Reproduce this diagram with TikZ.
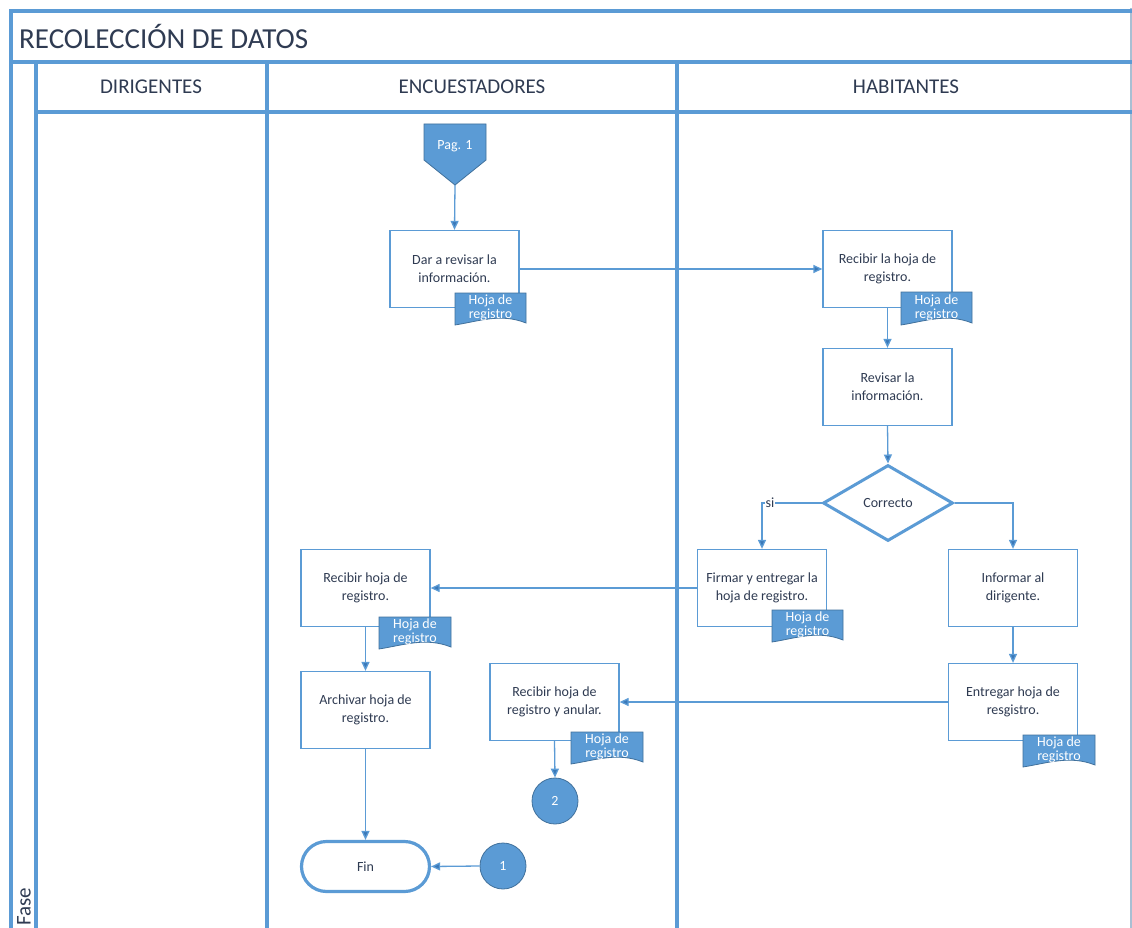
\documentclass[tikz,border=0pt]{standalone}
\usepackage{fontspec}
\setmainfont{Carlito}
\usetikzlibrary{arrows.meta,shapes.geometric,calc}
\definecolor{lane}{HTML}{5B9BD5}
\definecolor{laneedge}{HTML}{41719C}
\definecolor{arrowc}{HTML}{3A78B8}
\definecolor{txt}{HTML}{2F3B52}
\definecolor{rim}{HTML}{A9BFD3}
\tikzset{
  x=1pt, y=-1pt,
  frame/.style={draw=lane, line width=3.2pt},
  proc/.style={draw=lane, line width=1.3pt, fill=white, minimum width=129pt, minimum height=77pt,
    align=center, text=txt, font=\fontsize{14}{18}\selectfont, inner sep=0pt},
  flow/.style={draw=lane, line width=1.3pt, -{Triangle[length=9pt,width=8pt,fill=arrowc]}},
  docu/.style={fill=lane, draw=laneedge, line width=0.8pt},
  doctext/.style={text=white, align=center, font=\fontsize{14}{14}\selectfont, inner sep=0pt},
  conn/.style={circle, fill=lane, draw=laneedge, line width=0.8pt, minimum size=46pt, inner sep=0pt,
    text=white, font=\fontsize{14}{16}\selectfont},
  lanehead/.style={text=txt, font=\fontsize{21}{24}\selectfont},
}
% document symbol with a wavy lower edge: top-left corner, width, height, name
\newcommand{\docsym}[4]{%
  \path[docu] (#1) -- ++(#2,0) -- ++(0,#3-5)
    .. controls ++(-0.35*#2,-10) and ++(0.35*#2,-4) .. ($(#1)+(0,#3-3)$) -- cycle;
  \node[doctext] (#4) at ($(#1)+(0.5*#2,0.5*#3-2.5)$) {Hoja de\\registro};
}
\begin{document}
\begin{tikzpicture}
\useasboundingbox (0,0) rectangle (1132,928);
\fill[white] (0,0) rectangle (1132,928);

% swimlane frame
\draw[rim, line width=1.2pt] (1131,8) -- (1131,928);
\draw[frame] (11,928) -- (11,11) -- (1132,11);
\draw[frame] (11,62) -- (1132,62);
\draw[frame] (36,112) -- (1132,112);
\draw[frame] (36,62) -- (36,928);
\draw[frame] (267,62) -- (267,928);
\draw[frame] (677,62) -- (677,928);

\node[anchor=west, text=txt, font=\fontsize{29}{32}\selectfont, inner sep=0pt] (title) at (19,36) {RECOLECCIÓN DE DATOS};
\node[lanehead] (h1) at (151,87) {DIRIGENTES};
\node[lanehead] (h2) at (472,87) {ENCUESTADORES};
\node[lanehead] (h3) at (906,87) {HABITANTES};
\node[rotate=90, anchor=west, text=txt, font=\fontsize{21}{22}\selectfont, inner sep=0pt] (fase) at (24,926) {Fase};

% off-page reference
\path[docu] (424,124) -- (486,124) -- (486,160) -- (455,185) -- (424,160) -- cycle;
\node[text=white, font=\fontsize{14}{16}\selectfont] (pag) at (455,146) {Pag. 1};
\coordinate (pagtip) at (455,185);

% process steps
\node[proc] (b1) at (454.5,269) {Dar a revisar la\\información.};
\node[proc] (b2) at (887.5,269) {Recibir la hoja de\\registro.};
\node[proc] (b3) at (887.5,387) {Revisar la\\información.};
\node[diamond, draw=lane, line width=3pt, fill=white, minimum width=130pt, minimum height=76pt,
      inner sep=0pt, text=txt, font=\fontsize{14}{16}\selectfont] (d) at (888,503) {Correcto};
\node[proc] (b4) at (762,588) {Firmar y entregar la\\hoja de registro.};
\node[proc] (b5) at (1013,588) {Informar al\\dirigente.};
\node[proc] (b6) at (1013,702) {Entregar hoja de\\resgistro.};
\node[proc] (b7) at (554.5,702) {Recibir hoja de\\registro y anular.};
\node[proc] (b8) at (365.5,588) {Recibir hoja de\\registro.};
\node[proc] (b9) at (365.5,710) {Archivar hoja de\\registro.};
\node[draw=lane, line width=3.2pt, fill=white, rounded corners=25pt, minimum width=128pt, minimum height=50pt,
      inner sep=0pt, text=txt, font=\fontsize{14}{16}\selectfont] (fin) at (365.5,866.5) {Fin};
\node[conn] (c2) at (555,801) {2};
\node[conn] (c1) at (503,866) {1};

% attached documents
\docsym{455,293}{71}{35}{doc1}
\docsym{901,292}{71}{36}{doc2}
\docsym{772,610}{71}{35}{doc4}
\docsym{1023,735}{72}{35}{doc6}
\docsym{571,732}{72}{35}{doc7}
\docsym{379,617}{72}{35}{doc8}

% connectors
\draw[flow] (pagtip) -- (b1.north);
\draw[flow] (b1.east) -- (b2.west);
\draw[flow] (b2.south) -- (b3.north);
\draw[flow] (b3.south) -- (d.north);
\draw[flow] (d.west) -| (b4.north);
\node[fill=white, text=txt, font=\fontsize{14}{14}\selectfont, inner sep=0.5pt] (si) at (770,503) {si};
\draw[flow] (d.east) -| (b5.north);
\draw[flow] (b5.south) -- (b6.north);
\draw[flow] (b6.west) -- (b7.east);
\draw[flow] (b7.south) -- (c2.north);
\draw[flow] (b4.west) -- (b8.east);
\draw[flow] (b8.south) -- (b9.north);
\draw[flow] (b9.south) -- (fin.north);
\draw[flow] (c1.west) -- (fin.east);
\end{tikzpicture}
\end{document}
